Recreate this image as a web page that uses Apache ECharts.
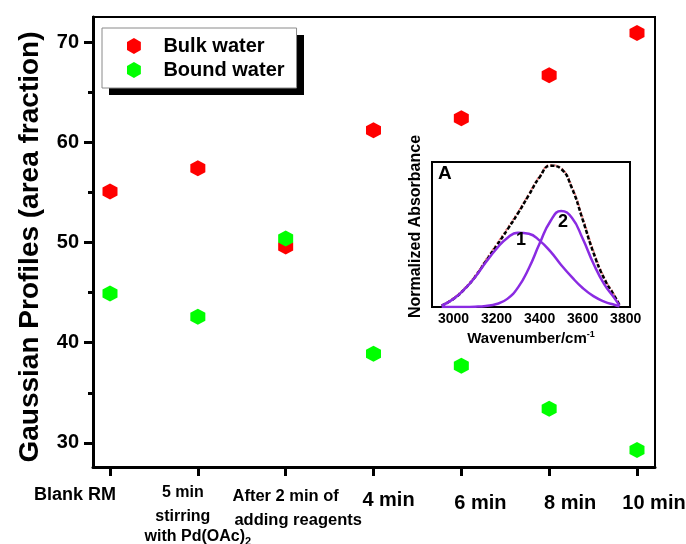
<!DOCTYPE html>
<html>
<head>
<meta charset="utf-8">
<script src="https://cdn.jsdelivr.net/npm/echarts@6/dist/echarts.min.js"></script>
<style>html,body{margin:0;padding:0;background:#fff;}#c{width:686px;height:544px;}</style>
</head>
<body>
<div id="c"></div>
<script>
// ---------- data ----------
const categories = ['Blank RM', '5 min\nstirring\nwith Pd(OAc)2', 'After 2 min of\nadding reagents', '4 min', '6 min', '8 min', '10 min'];
const bulkWater = [55.1, 57.4, 49.6, 61.2, 62.4, 66.7, 70.9];
const boundWater = [44.9, 42.6, 50.4, 38.9, 37.7, 33.4, 29.3];
const yTicks = [30, 40, 50, 60, 70];
const yMinorTicks = [35, 45, 55, 65];

// inset (IR band deconvolution)
const insetWavenumber = [2945, 3000, 3050, 3100, 3150, 3200, 3250, 3300, 3350, 3400, 3450, 3500, 3550, 3600, 3650, 3700, 3750, 3771];
const insetPeak1 = [0.01, 0.06, 0.13, 0.22, 0.33, 0.43, 0.51, 0.548, 0.54, 0.49, 0.41, 0.31, 0.22, 0.14, 0.08, 0.04, 0.015, 0.005];
const insetPeak2 = [0, 0, 0, 0.002, 0.008, 0.022, 0.06, 0.145, 0.286, 0.468, 0.633, 0.709, 0.658, 0.505, 0.321, 0.169, 0.06, 0.01];
const insetFit = [0.01, 0.06, 0.13, 0.222, 0.338, 0.452, 0.57, 0.693, 0.826, 0.958, 1.043, 1.019, 0.878, 0.645, 0.401, 0.209, 0.075, 0.015];
const insetMeasured = [0.012, 0.066, 0.137, 0.23, 0.348, 0.463, 0.58, 0.702, 0.834, 0.963, 1.047, 1.024, 0.888, 0.66, 0.415, 0.218, 0.082, 0.015];
const insetTicks = [3000, 3200, 3400, 3600, 3800];

// ---------- styling ----------
const FONT = "'Liberation Sans', Arial, Helvetica, sans-serif";
const HEX = 'path://M0,-1 L0.866,-0.5 L0.866,0.5 L0,1 L-0.866,0.5 L-0.866,-0.5 Z';
const lineStyleNames = [['a'], ['b1', 'b2', 'b3'], ['c1', 'c2'], ['d4'], ['d6'], ['d8'], ['d10']];
const catIdx = categories.map((c, i) => i);

function xLabel(v) {
  const i = Math.round(v);
  const lines = categories[i].split('\n');
  return lines.map((ln, k) => {
    const st = lineStyleNames[i][k];
    const m = ln.match(/^(.*\))(\d)$/);
    if (m) return '{' + st + '|' + m[1] + '}{sub|' + m[2] + '}';
    return '{' + st + '|' + ln + '}';
  }).join('\n');
}

const bold = {fontFamily: FONT, fontWeight: 'bold', color: '#000'};
const rich = {
  a: Object.assign({fontSize: 18, lineHeight: 32, padding: [0, 70, 0, 0]}, bold),
  b1: Object.assign({fontSize: 16, lineHeight: 27, padding: [0, 30, 0, 0]}, bold),
  b2: Object.assign({fontSize: 16, lineHeight: 21, padding: [0, 30, 0, 0]}, bold),
  b3: Object.assign({fontSize: 16, lineHeight: 20}, bold),
  sub: Object.assign({fontSize: 11, lineHeight: 12, verticalAlign: 'bottom'}, bold),
  c1: Object.assign({fontSize: 16.5, lineHeight: 34}, bold),
  c2: Object.assign({fontSize: 16.5, lineHeight: 14, padding: [0, 0, 0, 25]}, bold),
  d4: Object.assign({fontSize: 20, lineHeight: 42, padding: [0, 0, 0, 30]}, bold),
  d6: Object.assign({fontSize: 20, lineHeight: 48, padding: [0, 0, 0, 38]}, bold),
  d8: Object.assign({fontSize: 20, lineHeight: 48, padding: [0, 0, 0, 42]}, bold),
  d10: Object.assign({fontSize: 20, lineHeight: 48, padding: [0, 0, 0, 34]}, bold)
};

const X_MIN = -0.1936, X_MAX = 6.205;

function catAxis(values, showLine) {
  return {
    gridIndex: 0, type: 'value', min: X_MIN, max: X_MAX, position: 'bottom', offset: 0,
    axisLine: {show: showLine, onZero: false, lineStyle: {color: '#000', width: 3}},
    axisTick: {show: showLine, length: 9, lineStyle: {color: '#000', width: 3}, customValues: catIdx},
    axisLabel: {show: true, margin: 12, customValues: values, formatter: xLabel, rich: rich,
      hideOverlap: false, showMinLabel: true, showMaxLabel: true},
    splitLine: {show: false}
  };
}

const chart = echarts.init(document.getElementById('c'), null, {renderer: 'canvas'});
const option = {
  backgroundColor: '#fff',
  animation: false,
  textStyle: {fontFamily: FONT},
  grid: [
    {left: 93, top: 17, right: 31, bottom: 77, show: true, borderColor: '#000', borderWidth: 2,
      backgroundColor: 'transparent', containLabel: false, outerBoundsMode: 'none'},
    {left: 432, top: 162, width: 198, height: 145, show: true, borderColor: '#000', borderWidth: 2,
      backgroundColor: '#fff', z: 5, containLabel: false, outerBoundsMode: 'none'}
  ],
  legend: {
    data: ['Bulk water', 'Bound water'],
    orient: 'vertical',
    left: 102, top: 28, z: 6,
    padding: [8, 12, 8, 25],
    itemWidth: 15, itemHeight: 16, itemGap: 4,
    backgroundColor: '#fff',
    borderColor: '#8a8a8a', borderWidth: 1,
    textStyle: {fontFamily: FONT, fontWeight: 'bold', fontSize: 20, color: '#000', padding: [0, 0, 0, 17], lineHeight: 20}
  },
  xAxis: [
    catAxis(catIdx.filter(i => i % 2 === 0), true),
    {
      gridIndex: 1, type: 'value', min: 2900, max: 3820,
      axisLine: {show: true, onZero: false, lineStyle: {color: '#000', width: 2}},
      axisTick: {show: false},
      axisLabel: {show: true, margin: 5, customValues: insetTicks, formatter: v => String(v),
        showMinLabel: true, showMaxLabel: true,
        fontFamily: FONT, fontWeight: 'bold', fontSize: 14, color: '#000'},
      splitLine: {show: false},
      name: '{a|Wavenumber/cm}{s|-1}',
      nameLocation: 'middle', nameGap: 23,
      nameTextStyle: {rich: {
        a: {fontFamily: FONT, fontWeight: 'bold', fontSize: 15, color: '#000'},
        s: {fontFamily: FONT, fontWeight: 'bold', fontSize: 9, color: '#000', verticalAlign: 'top', padding: [0, 0, 8, 0]}
      }}
    },
    catAxis(catIdx.filter(i => i % 2 === 1), false)
  ],
  yAxis: [
    {
      gridIndex: 0, type: 'value', min: 27.6, max: 72.5,
      axisLine: {show: true, onZero: false, lineStyle: {color: '#000', width: 3}},
      axisTick: {show: true, length: 9, lineStyle: {color: '#000', width: 3}, customValues: yTicks},
      axisLabel: {show: true, margin: 14, customValues: yTicks, fontFamily: FONT, fontWeight: 'bold', fontSize: 20, color: '#000'},
      splitLine: {show: false},
      name: 'Gaussian Profiles (area fraction)',
      nameLocation: 'middle', nameGap: 49, nameRotate: 90,
      nameTextStyle: {fontFamily: FONT, fontWeight: 'bold', fontSize: 28, color: '#000', padding: [0, 10, 0, 0]}
    },
    {
      gridIndex: 0, type: 'value', min: 27.6, max: 72.5, position: 'left', offset: 0,
      axisLine: {show: false, onZero: false},
      axisTick: {show: true, length: 5, lineStyle: {color: '#000', width: 3}, customValues: yMinorTicks},
      axisLabel: {show: false},
      splitLine: {show: false}
    },
    {
      gridIndex: 1, type: 'value', min: 0, max: 1.07,
      axisLine: {show: true, onZero: false, lineStyle: {color: '#000', width: 2}},
      axisTick: {show: false}, axisLabel: {show: false}, splitLine: {show: false},
      name: 'Normalized Absorbance',
      nameLocation: 'middle', nameGap: 8, nameRotate: 90,
      nameTextStyle: {fontFamily: FONT, fontWeight: 'bold', fontSize: 16, color: '#000', padding: [0, 0, 0, 16]}
    }
  ],
  series: [
    {
      name: 'Bulk water', type: 'scatter', xAxisIndex: 0, yAxisIndex: 0,
      symbol: HEX, symbolSize: [15, 16],
      itemStyle: {color: '#ff0000', opacity: 1},
      data: bulkWater.map((v, i) => [i, v]), z: 3
    },
    {
      name: 'Bound water', type: 'scatter', xAxisIndex: 0, yAxisIndex: 0,
      symbol: HEX, symbolSize: [15, 16],
      itemStyle: {color: '#00ff00', opacity: 1},
      data: boundWater.map((v, i) => [i, v]), z: 4
    },
    {
      name: 'measured', type: 'line', xAxisIndex: 1, yAxisIndex: 2, smooth: true, showSymbol: false,
      lineStyle: {color: '#f08080', width: 2, type: [2, 2]},
      data: insetWavenumber.map((w, i) => [w, insetMeasured[i]]), z: 6
    },
    {
      name: 'fit', type: 'line', xAxisIndex: 1, yAxisIndex: 2, smooth: true, showSymbol: false,
      lineStyle: {color: '#000', width: 2.5, type: [4, 2]},
      data: insetWavenumber.map((w, i) => [w, insetFit[i]]), z: 7
    },
    {
      name: 'peak1', type: 'line', xAxisIndex: 1, yAxisIndex: 2, smooth: true, showSymbol: false,
      lineStyle: {color: '#8a2be2', width: 2.5},
      data: insetWavenumber.map((w, i) => [w, insetPeak1[i]]), z: 8
    },
    {
      name: 'peak2', type: 'line', xAxisIndex: 1, yAxisIndex: 2, smooth: true, showSymbol: false,
      lineStyle: {color: '#8a2be2', width: 2.5},
      data: insetWavenumber.map((w, i) => [w, insetPeak2[i]]), z: 8
    }
  ],
  graphic: [
    {type: 'rect', z: 1, shape: {x: 109, y: 35, width: 195, height: 60}, style: {fill: '#000'}},
    {type: 'text', left: 438, top: 164, z: 100, style: {text: 'A', font: "bold 19px 'Liberation Sans', Arial, sans-serif", fill: '#000'}},
    {type: 'text', left: 516, top: 231, z: 100, style: {text: '1', font: "bold 18px 'Liberation Sans', Arial, sans-serif", fill: '#000'}},
    {type: 'text', left: 558, top: 213, z: 100, style: {text: '2', font: "bold 18px 'Liberation Sans', Arial, sans-serif", fill: '#000'}}
  ]
};
chart.setOption(option);
</script>
</body>
</html>
